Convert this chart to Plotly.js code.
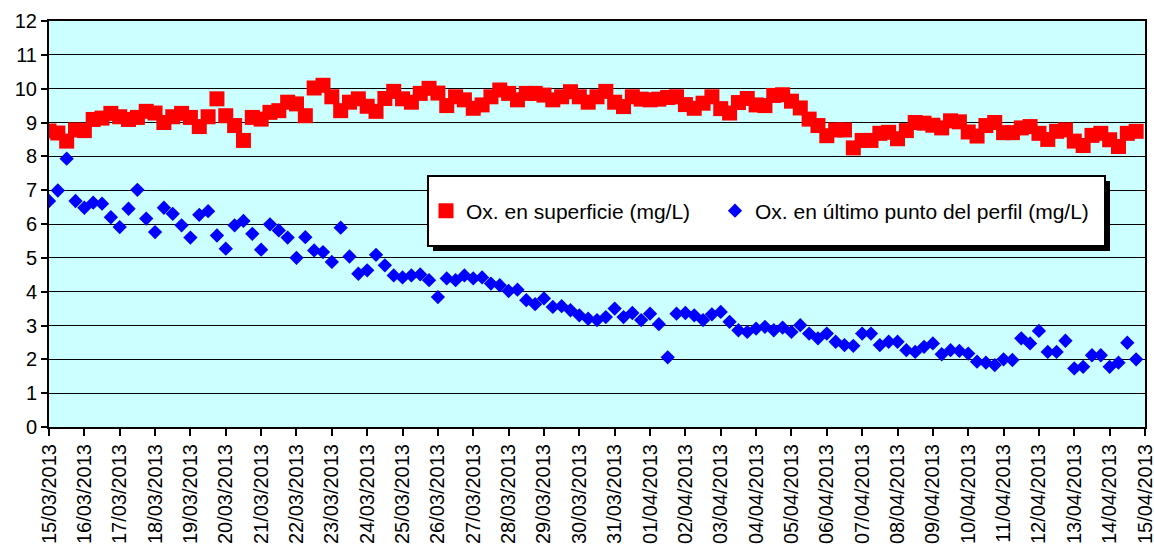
<!DOCTYPE html>
<html><head><meta charset="utf-8">
<script src="https://cdn.plot.ly/plotly-3.0.1.min.js"></script>
<style>body{margin:0;background:#fff}#chart{width:1154px;height:548px}</style>
</head><body><div id="chart"></div>
<script>
// Sampling: one reading every 6 hours from 15/03/2013 00:00
const startTime = Date.UTC(2013, 2, 15, 0, 0, 0);
const stepHours = 6;

const surfaceOx = [
 8.75,8.69,8.45,8.78,8.76,9.09,9.13,9.27,9.17,9.09,
 9.15,9.33,9.28,9.00,9.17,9.27,9.15,8.88,9.17,9.70,
 9.20,8.91,8.47,9.15,9.10,9.30,9.35,9.60,9.55,9.20,
 10.02,10.10,9.76,9.35,9.60,9.70,9.48,9.33,9.71,9.92,
 9.70,9.60,9.86,10.01,9.87,9.50,9.76,9.67,9.42,9.52,
 9.76,9.96,9.86,9.67,9.86,9.86,9.81,9.67,9.76,9.91,
 9.76,9.60,9.76,9.92,9.60,9.47,9.76,9.69,9.67,9.69,
 9.74,9.76,9.53,9.42,9.57,9.76,9.41,9.28,9.59,9.71,
 9.52,9.50,9.80,9.82,9.63,9.43,9.10,8.91,8.61,8.78,
 8.78,8.25,8.47,8.47,8.68,8.71,8.52,8.76,9.00,8.98,
 8.92,8.84,9.05,9.02,8.72,8.60,8.91,9.00,8.70,8.70,
 8.84,8.88,8.68,8.50,8.74,8.78,8.45,8.32,8.62,8.68,
 8.49,8.29,8.68,8.74
];

const bottomOx = [
 6.68,6.99,7.93,6.68,6.48,6.63,6.60,6.20,5.91,6.45,
 7.01,6.16,5.76,6.48,6.30,5.96,5.60,6.27,6.38,5.66,
 5.27,5.96,6.09,5.71,5.24,5.99,5.81,5.60,5.00,5.61,
 5.22,5.17,4.88,5.89,5.04,4.53,4.63,5.09,4.78,4.48,
 4.42,4.48,4.51,4.34,3.84,4.39,4.34,4.48,4.39,4.42,
 4.24,4.19,4.02,4.06,3.75,3.63,3.80,3.55,3.57,3.45,
 3.30,3.20,3.16,3.25,3.50,3.25,3.37,3.16,3.35,3.04,
 2.06,3.35,3.37,3.30,3.16,3.33,3.40,3.11,2.86,2.81,
 2.91,2.96,2.86,2.94,2.81,3.01,2.76,2.62,2.76,2.52,
 2.42,2.40,2.76,2.76,2.42,2.52,2.52,2.27,2.22,2.37,
 2.47,2.15,2.27,2.25,2.17,1.93,1.90,1.83,2.00,1.98,
 2.62,2.47,2.84,2.22,2.22,2.55,1.73,1.78,2.12,2.12,
 1.78,1.90,2.49,2.00
];

const seriesNames = ['Ox. en superficie (mg/L)', 'Ox. en último punto del perfil (mg/L)'];
const xStart = '2013-03-15';
const xEnd = '2013-04-15';
const yTicks = [0,1,2,3,4,5,6,7,8,9,10,11,12];

function timeAt(i) {
  return new Date(startTime + i * stepHours * 3600e3).toISOString().slice(0, 19).replace('T', ' ');
}
const times = surfaceOx.map((_, i) => timeAt(i));

const font = 'Arial, "Liberation Sans", sans-serif';

const traces = [
  {x: times, y: surfaceOx, name: seriesNames[0], type: 'scatter', mode: 'markers', legend: 'legend',
   marker: {symbol: 'square', size: 15, color: '#FF0000'}},
  {x: times, y: bottomOx, name: seriesNames[1], type: 'scatter', mode: 'markers', legend: 'legend2',
   marker: {symbol: 'diamond', size: 11, color: '#0000FF'}}
];

const L = 49, R = 1145, T = 21, B = 427;
const px2x = p => (p - L) / (R - L);
const px2y = p => (B - p) / (B - T);

const legendBase = {orientation: 'h', xanchor: 'left', y: px2y(211), yanchor: 'middle',
  bgcolor: 'rgba(0,0,0,0)', borderwidth: 0, font: {family: font, size: 21, color: '#000'}};

const layout = {
  width: 1154, height: 548,
  margin: {l: L, r: 1154 - R, t: T, b: 548 - B, pad: 0},
  paper_bgcolor: '#FFFFFF', plot_bgcolor: '#CCFFFF',
  font: {family: font, size: 20, color: '#000'},
  showlegend: true,
  legend: Object.assign({}, legendBase, {x: px2x(426)}),
  legend2: Object.assign({}, legendBase, {x: px2x(715)}),
  xaxis: {type: 'date', range: [xStart, xEnd], tick0: xStart, dtick: 86400000,
          tickformat: '%d/%m/%Y', tickangle: -90, ticks: 'outside', ticklen: 7, tickwidth: 2,
          tickcolor: '#000', tickfont: {family: font, size: 20, color: '#000'},
          ticklabeloverflow: 'allow',
          showline: true, linecolor: '#000', linewidth: 2, mirror: true, showgrid: false, zeroline: false},
  yaxis: {range: [0, 12], tickvals: yTicks, ticks: 'outside', ticklen: 6, tickwidth: 2, tickcolor: '#000',
          tickfont: {family: font, size: 20, color: '#000'},
          showline: true, linecolor: '#000', linewidth: 2, mirror: true,
          showgrid: true, gridcolor: '#000', gridwidth: 1, zeroline: false},
  shapes: [
    {type: 'rect', xref: 'paper', yref: 'paper', layer: 'above',
     x0: px2x(433), x1: px2x(1110), y0: px2y(251), y1: px2y(181),
     fillcolor: '#000', line: {width: 0}},
    {type: 'rect', xref: 'paper', yref: 'paper', layer: 'above',
     x0: px2x(428), x1: px2x(1105), y0: px2y(246), y1: px2y(176),
     fillcolor: '#FFFFFF', line: {color: '#000', width: 2}}
  ]
};

Plotly.newPlot('chart', traces, layout, {displayModeBar: false, staticPlot: true});
</script>
</body></html>
